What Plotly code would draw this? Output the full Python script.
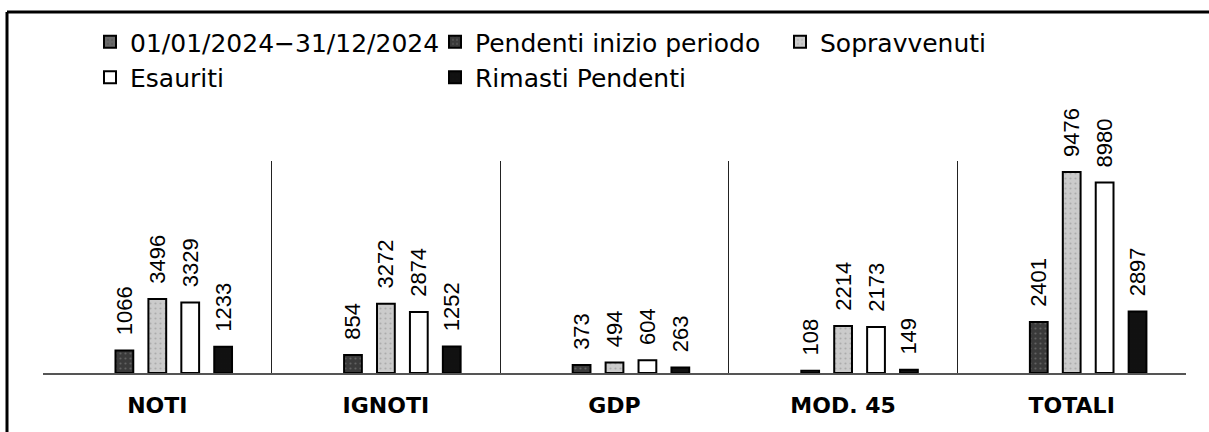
import plotly.graph_objects as go

# categories and series
categorie = ["NOTI", "IGNOTI", "GDP", "MOD. 45", "TOTALI"]
periodo = [None, None, None, None, None]          # legend-only series
pendenti_inizio = [1066, 854, 373, 108, 2401]
sopravvenuti = [3496, 3272, 494, 2214, 9476]
esauriti = [3329, 2874, 604, 2173, 8980]
rimasti = [1233, 1252, 263, 149, 2897]

W, H = 1209, 432
L, R, T, B = 43, 23, 161, 59     # plot area 43..1186 x 161..373

LABEL_FONT = dict(family="Liberation Sans", size=22, color="black")
PAD = "\u00a0\u00a0"   # lifts the rotated labels a bit off the bar tops


def px_to_paper(px, py):
    return (px - L) / (W - L - R), (H - B - py) / (H - T - B)


series = [
    ("01/01/2024\u221231/12/2024", periodo, "#6a6a6a", "#3a3a3a"),
    ("Pendenti inizio periodo", pendenti_inizio, "#3a3a3a", "#8a8a8a"),
    ("Sopravvenuti", sopravvenuti, "#cbcbcb", "#8c8c8c"),
    ("Esauriti", esauriti, "#ffffff", "#ffffff"),
    ("Rimasti Pendenti", rimasti, "#111111", "#111111"),
]

fig = go.Figure()
for name, vals, fill, dots in series:
    fig.add_trace(go.Bar(
        x=categorie, y=vals, name=name,
        marker=dict(color=fill, line=dict(color="black", width=2),
                    pattern=dict(shape=".", fgcolor=dots, size=5, solidity=0.15)),
        text=[None if v is None else PAD + str(v) for v in vals],
        textposition="outside", textangle=-90, constraintext="none",
        outsidetextfont=LABEL_FONT, cliponaxis=False,
    ))

# outer frame of the scanned chart (top and left edges only)
x0, y0 = px_to_paper(7, 12)
x1, y1 = px_to_paper(W + 10, H + 10)
fig.add_shape(type="line", xref="paper", yref="paper", x0=x0, y0=y0, x1=x1, y1=y0,
              line=dict(color="black", width=3))
fig.add_shape(type="line", xref="paper", yref="paper", x0=x0, y0=y0, x1=x0, y1=y1,
              line=dict(color="black", width=3))

fig.update_layout(
    width=W, height=H,
    margin=dict(l=L, r=R, t=T, b=B),
    paper_bgcolor="white", plot_bgcolor="white",
    barmode="group", bargap=0.28, bargroupgap=0.46,
    font=dict(family="DejaVu Sans", color="black"),
    showlegend=True,
    legend=dict(orientation="h", xref="container", yref="container",
                x=90 / W, y=1 - 19 / H, xanchor="left", yanchor="top",
                entrywidth=300, entrywidthmode="pixels",
                font=dict(family="DejaVu Sans", size=25, color="black"),
                bgcolor="rgba(0,0,0,0)"),
    xaxis=dict(type="category", tickson="boundaries", showgrid=True,
               gridcolor="#222222", gridwidth=1, showline=True,
               linecolor="#555555", linewidth=2, ticks="",
               ticklabelstandoff=12,
               tickfont=dict(family="DejaVu Sans", size=22, color="black",
                             weight="bold")),
    yaxis=dict(range=[0, 10000], visible=False),
)

# the page body has an 8px default margin; drop it so the figure sits at 0,0
fig.write_html("out.html", config={"displayModeBar": False},
               post_script="document.body.style.margin = '0';")
